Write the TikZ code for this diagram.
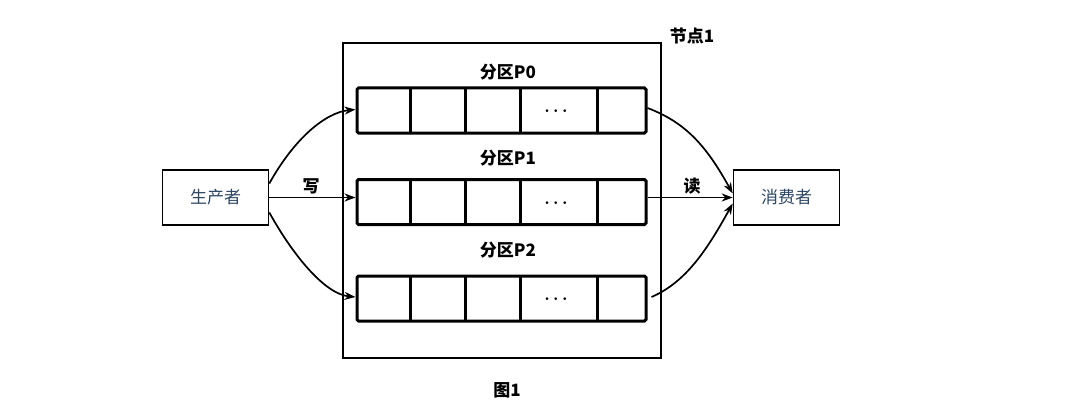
\documentclass[tikz,border=0pt]{standalone}
\usepackage{fontspec}
\setmainfont{Liberation Serif}
\newfontfamily\cjk{Noto Sans CJK SC}
\usetikzlibrary{arrows.meta}
\definecolor{roletext}{RGB}{45,70,100}
\tikzset{
  frame/.style={draw, line width=1.8pt},
  rolebox/.style={draw, line width=1.6pt, minimum width=106, minimum height=55, inner sep=0pt, font=\cjk\fontsize{17}{19}\selectfont, text=roletext},
  rowbox/.style={draw, line width=3pt, rounded corners=1.5pt, minimum height=45, inner sep=0pt},
  divider/.style={line width=3pt},
  lbl/.style={font=\cjk\bfseries\fontsize{17}{19}\selectfont, inner sep=0pt},
  dotsstyle/.style={font=\boldmath\fontsize{16}{18}\selectfont, inner sep=0pt},
  conn/.style={line width=1.7pt, -{Stealth[length=11pt,width=8pt,inset=3.5pt]}},
}
\begin{document}
\begin{tikzpicture}[x=1pt,y=-1pt]
\useasboundingbox[fill=white] (0,0) rectangle (1080,412);
% node frame
\node[frame, minimum width=318, minimum height=315, inner sep=0pt] (frame) at (502,200.5) {};
\node[lbl] (n1) at (692,36) {节点1};
% producer / consumer
\node[rolebox] (prod) at (215.5,197.5) {生产者};
\node[rolebox] (cons) at (786.5,197.5) {消费者};
% partition rows
\foreach \r/\yc/\ly in {0/110.5/72, 1/202/158, 2/298.5/250}{
  \node[rowbox, minimum width=289] (row\r) at (501.5,\yc) {};
  \foreach \xx in {410,465,520,597}{
    \draw[divider] (\xx,\yc-22.5) -- (\xx,\yc+22.5);
  }
  \node[dotsstyle] (dots\r) at (556,\yc+1) {$\cdots$};
  \node[lbl] (lab\r) at (508,\ly) {分区P\r};
}
% write arrows
\draw[conn] ([yshift=14pt]prod.east) .. controls +(25,-45) and +(-30,3) .. ([yshift=1pt]row0.west);
\draw[conn] (prod.east) -- ([yshift=4.5pt]row1.west);
\draw[conn] ([yshift=-15pt]prod.east) .. controls +(25,45) and +(-30,-3) .. ([yshift=1.5pt]row2.west);
\node[lbl] (w) at (311,186) {写};
% read arrows
\draw[conn] ([yshift=2.5pt]row0.east) .. controls +(40,15) and +(-25,-45) .. ([yshift=4pt]cons.west);
\draw[conn] ([yshift=4.5pt]row1.east) -- (cons.west);
\draw[conn] ([yshift=1.5pt,xshift=4pt]row2.east) .. controls +(35,-15) and +(-25,45) .. ([yshift=-6pt]cons.west);
\node[lbl] (rd) at (692,186) {读};
% caption
\node[lbl] (cap) at (507,390) {图1};
\end{tikzpicture}
\end{document}
